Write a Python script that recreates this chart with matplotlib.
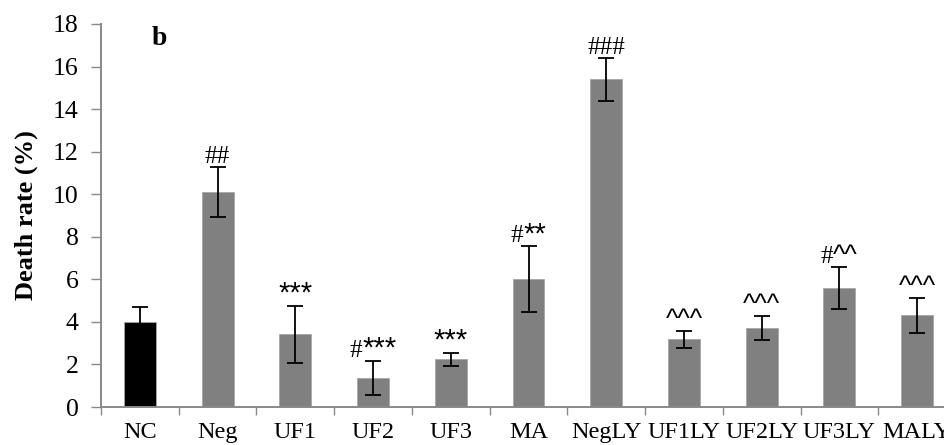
import numpy as np
import matplotlib
matplotlib.use("Agg")
import matplotlib.pyplot as plt
from matplotlib.ticker import FixedLocator

plt.rcParams['font.family'] = ['Liberation Serif', 'DejaVu Serif']

# data
groups = ["NC", "Neg", "UF1", "UF2", "UF3", "MA", "NegLY", "UF1LY", "UF2LY", "UF3LY", "MALY"]
death_rate = [4.0, 10.12, 3.42, 1.38, 2.24, 6.01, 15.4, 3.18, 3.71, 5.59, 4.31]
sem = [0.72, 1.18, 1.35, 0.8, 0.3, 1.55, 1.0, 0.4, 0.57, 1.0, 0.82]
marks = ["", "##", "***", "#***", "***", "#**", "###", "^^^", "^^^", "#^^", "^^^"]

axis_grey = "#898989"

fig = plt.figure(figsize=(9.45, 4.45), dpi=100)
ax = fig.add_axes([101 / 945, 38 / 445, 855 / 945, 383 / 445])

x = np.arange(len(groups))
colors = ["black"] + ["#808080"] * (len(groups) - 1)
ax.bar(x, death_rate, width=0.41, color=colors, edgecolor="#a6a6a6", linewidth=0.6, zorder=2)
ax.errorbar(x, death_rate, yerr=sem, fmt="none", ecolor="black", elinewidth=1.3,
            capsize=5.5, capthick=1.3, zorder=3)

ax.set_xlim(-0.5, len(groups) - 0.5)
ax.set_ylim(0, 18)

# significance marks: '#' in serif, '*' and '^' in a bigger sans face
lift = 4
pieces = []
for xi, yi, e, m in zip(x, death_rate, sem, marks):
    if not m:
        continue
    hashes = m[:len(m) - len(m.lstrip("#"))]
    rest = m[len(hashes):]
    parts = []
    if hashes:
        parts.append(ax.annotate(hashes, (xi, yi + e), xytext=(0, lift), textcoords="offset pixels",
                                 ha="left", va="baseline", fontsize=18))
    if rest:
        size = 21 if rest[0] == "*" else 19
        parts.append(ax.annotate(rest, (xi, yi + e), xytext=(0, lift), textcoords="offset pixels",
                                 ha="left", va="baseline", fontsize=size,
                                 family=["Liberation Sans", "DejaVu Sans"]))
    pieces.append(parts)

fig.canvas.draw()
renderer = fig.canvas.get_renderer()
for parts in pieces:
    widths = [p.get_window_extent(renderer).width for p in parts]
    start = -sum(widths) / 2
    for p, w in zip(parts, widths):
        p.xyann = (start, lift)
        start += w

ax.set_yticks(np.arange(0, 19, 2))
ax.set_xticks(x)
ax.set_xticklabels(groups)
ax.xaxis.set_minor_locator(FixedLocator(np.arange(-0.5, len(groups), 1.0)))
ax.tick_params(axis="x", which="major", length=0, pad=11, labelsize=17.5)
ax.tick_params(axis="x", which="minor", length=6, width=1, color=axis_grey)
ax.tick_params(axis="y", length=7, width=1, color=axis_grey, pad=9, labelsize=18.5)

for s in ["top", "right"]:
    ax.spines[s].set_visible(False)
ax.spines["left"].set_color(axis_grey)
ax.spines["bottom"].set_color(axis_grey)
ax.spines["left"].set_linewidth(1.4)
ax.spines["bottom"].set_linewidth(1.4)

ax.set_ylabel("Death rate (%)", fontsize=19, fontweight="bold", labelpad=11)
fig.text(152 / 945, 1 - 45 / 445, "b", fontsize=20, fontweight="bold", ha="left", va="baseline")

fig.savefig("out.png", dpi=100)
